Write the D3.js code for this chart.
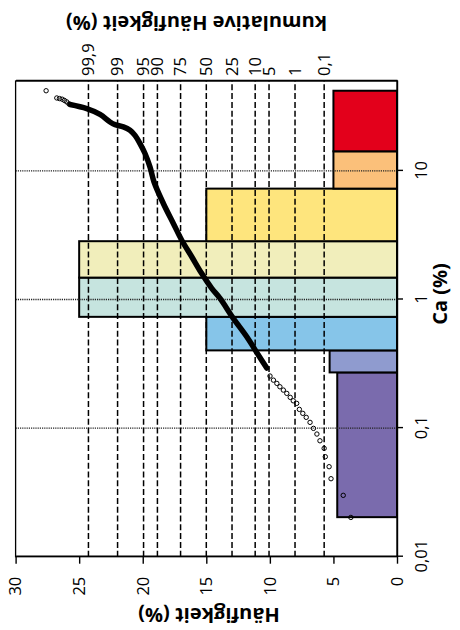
<!DOCTYPE html>
<html>
<head>
<meta charset="utf-8">
<script src="https://cdn.jsdelivr.net/npm/d3@7"></script>
<style>
  body { margin: 0; background: #fff; }
  svg { display: block; }
  text { font-family: "Open Sans", Lato, sans-serif; fill: #000; }
</style>
</head>
<body>
<svg id="chart" width="460" height="630"></svg>
<script>
// ---- data -------------------------------------------------------------
// class limits of Ca (%) and the share of samples (%) in each class
const classLimits = [0.0203, 0.271, 0.402, 0.733, 1.48, 2.84, 7.28, 14.2, 42];
const classFreq   = [4.7, 5.3, 15, 25, 25, 15, 5, 5];
const classColors = ["#7a6bad", "#8f9bcf", "#86c5e9", "#c6e4df",
                     "#f1eebb", "#fee57d", "#fbc07a", "#e3001b"];

// probability plot: [Ca %, normal score]
const lowerTail = [
  [0.0202, -3.79], [0.030, -3.59], [0.0404, -3.27], [0.0501, -3.22],
  [0.0599, -3.12], [0.0696, -3.09], [0.0797, -2.98], [0.0899, -2.90],
  [0.0995, -2.81], [0.1108, -2.72], [0.1212, -2.62], [0.1302, -2.53],
  [0.1398, -2.44], [0.1557, -2.37], [0.1631, -2.28], [0.1734, -2.20],
  [0.1862, -2.11], [0.1975, -2.02], [0.2096, -1.93], [0.2227, -1.85],
  [0.236, -1.76], [0.254, -1.67]
];
const bulk = [
  [0.293, -1.585], [0.370, -1.365], [0.513, -1.061], [0.713, -0.709],
  [1.02, -0.361], [1.22, -0.143], [1.59, 0.119], [2.15, 0.382],
  [2.89, 0.644], [3.90, 0.864], [5.58, 1.126], [8.2, 1.370],
  [10.7, 1.475], [13.65, 1.607], [16.3, 1.738], [18.9, 1.869],
  [20.7, 2.000], [22.0, 2.175], [22.9, 2.393], [24.0, 2.524],
  [27.5, 2.787], [30.5, 3.135], [32.8, 3.573]
];
const upperTail = [
  [33.2, 3.60], [34.4, 3.66], [35.3, 3.72], [36.1, 3.78],
  [36.5, 3.85], [36.9, 3.92], [42, 4.20]
];

const caTicks   = [0.01, 0.1, 1, 10];
const freqTicks = [0, 5, 10, 15, 20, 25, 30];
const probTicks = [0.1, 1, 5, 10, 25, 50, 75, 90, 95, 99, 99.9];

// ---- helpers ----------------------------------------------------------
// inverse standard normal CDF (Acklam)
function probit(p) {
  const a = [-3.969683028665376e+01, 2.209460984245205e+02, -2.759285104469687e+02,
             1.383577518672690e+02, -3.066479806614716e+01, 2.506628277459239e+00];
  const b = [-5.447609879822406e+01, 1.615858368580409e+02, -1.556989798598866e+02,
             6.680131188771972e+01, -1.328068155288572e+01];
  const c = [-7.784894002430293e-03, -3.223964580411365e-01, -2.400758277161838e+00,
             -2.549732539343734e+00, 4.374664141464968e+00, 2.938163982698783e+00];
  const d = [7.784695709041462e-03, 3.224671290700398e-01, 2.445134137142996e+00,
             3.754408661907416e+00];
  const pl = 0.02425, ph = 1 - pl;
  let q, r;
  if (p < pl) {
    q = Math.sqrt(-2 * Math.log(p));
    return (((((c[0]*q + c[1])*q + c[2])*q + c[3])*q + c[4])*q + c[5]) /
           ((((d[0]*q + d[1])*q + d[2])*q + d[3])*q + 1);
  }
  if (p <= ph) {
    q = p - 0.5; r = q * q;
    return (((((a[0]*r + a[1])*r + a[2])*r + a[3])*r + a[4])*r + a[5])*q /
           (((((b[0]*r + b[1])*r + b[2])*r + b[3])*r + b[4])*r + 1);
  }
  q = Math.sqrt(-2 * Math.log(1 - p));
  return -(((((c[0]*q + c[1])*q + c[2])*q + c[3])*q + c[4])*q + c[5]) /
          ((((d[0]*q + d[1])*q + d[2])*q + d[3])*q + 1);
}

const de = d3.formatLocale({decimal: ",", thousands: ".", grouping: [3], currency: ["", " €"]});
const fmtNum = v => de.format("~g")(v);

// ---- layout (chart is laid out landscape, then turned a quarter turn) --
const svg = d3.select("#chart");
const g = svg.append("g").attr("transform", "translate(0,630) rotate(-90)");

const plotL = 73.3, plotR = 549, plotT = 15.6, plotB = 397;

const x = d3.scaleLog().domain([0.01, 50]).range([plotL, plotR]);
const yFreq = d3.scaleLinear().domain([0, 30]).range([plotB, plotT]);
const yScore = d3.scaleLinear().domain([-5, 5]).range([plotB, plotT]);

// histogram classes
const classes = classFreq.map((f, i) => ({
  lo: classLimits[i], hi: classLimits[i + 1], f, color: classColors[i]
}));
g.append("g").selectAll("rect").data(classes).join("rect")
  .attr("x", d => x(d.lo))
  .attr("width", d => x(d.hi) - x(d.lo))
  .attr("y", d => yFreq(d.f))
  .attr("height", d => yFreq(0) - yFreq(d.f))
  .attr("fill", d => d.color)
  .attr("stroke", "#000")
  .attr("stroke-width", 2);

// dotted decade grid
g.append("g").selectAll("line").data(caTicks.slice(1)).join("line")
  .attr("x1", d => x(d)).attr("x2", d => x(d))
  .attr("y1", plotT).attr("y2", plotB)
  .attr("stroke", "#222").attr("stroke-width", 1.4)
  .attr("stroke-dasharray", "1.2,1");

// dashed probability grid
g.append("g").selectAll("line").data(probTicks).join("line")
  .attr("x1", plotL).attr("x2", plotR)
  .attr("y1", d => yScore(probit(d / 100))).attr("y2", d => yScore(probit(d / 100)))
  .attr("stroke", "#000").attr("stroke-width", 1.5)
  .attr("stroke-dasharray", "6,2.8");

// probability plot
const line = d3.line()
  .x(d => x(d[0])).y(d => yScore(d[1]))
  .curve(d3.curveCatmullRom);
g.append("path").datum(bulk)
  .attr("d", line)
  .attr("fill", "none").attr("stroke", "#000")
  .attr("stroke-width", 5.5).attr("stroke-linecap", "round")
  .attr("stroke-linejoin", "round");
g.append("g").selectAll("circle").data(lowerTail.concat(upperTail)).join("circle")
  .attr("cx", d => x(d[0])).attr("cy", d => yScore(d[1]))
  .attr("r", 2.2)
  .attr("fill", "none").attr("stroke", "#000").attr("stroke-width", 1);

// plot frame
g.append("rect")
  .attr("x", plotL).attr("y", plotT)
  .attr("width", plotR - plotL).attr("height", plotB - plotT)
  .attr("fill", "none").attr("stroke", "#000").attr("stroke-width", 1.3);

// axes
const styleAxis = sel => {
  sel.selectAll(".domain").attr("stroke", "#000").attr("stroke-width", 1.4);
  sel.selectAll(".tick line").attr("stroke", "#000").attr("stroke-width", 1.4);
  sel.selectAll("text").attr("font-size", 16.5).attr("font-family", "'Open Sans', Lato, sans-serif");
};

const xAxis = g.append("g").attr("transform", `translate(0,${plotB})`)
  .call(d3.axisBottom(x).tickValues(caTicks).tickFormat(fmtNum).tickSize(6).tickSizeOuter(0))
  .call(styleAxis);
xAxis.selectAll(".tick text").attr("y", 30).attr("dy", 0);

const yAxis = g.append("g").attr("transform", `translate(${plotL},0)`)
  .call(d3.axisLeft(yFreq).tickValues(freqTicks).tickFormat(fmtNum).tickSize(7).tickSizeOuter(0))
  .call(styleAxis);
yAxis.selectAll(".tick text").attr("x", -20);

const pAxis = g.append("g").attr("transform", `translate(${plotR},0)`)
  .call(d3.axisRight(yScore).tickValues(probTicks.map(p => probit(p / 100)))
    .tickFormat((d, i) => fmtNum(probTicks[i])).tickSize(0).tickSizeOuter(0))
  .call(styleAxis);
pAxis.selectAll(".tick text").attr("x", 5);

// axis titles
g.append("text")
  .attr("transform", `translate(15,209) rotate(-90)`)
  .attr("text-anchor", "middle").attr("dominant-baseline", "central")
  .attr("font-size", 20).attr("font-weight", 700)
  .text("Häufigkeit (%)");
g.append("text")
  .attr("transform", `translate(607,196.5) rotate(-90)`)
  .attr("text-anchor", "middle").attr("dominant-baseline", "central")
  .attr("font-size", 20).attr("font-weight", 700)
  .text("kumulative Häufigkeit (%)");
g.append("text")
  .attr("x", 336).attr("y", 447)
  .attr("text-anchor", "middle")
  .attr("font-size", 20).attr("font-weight", 700)
  .text("Ca (%)");
</script>
</body>
</html>
